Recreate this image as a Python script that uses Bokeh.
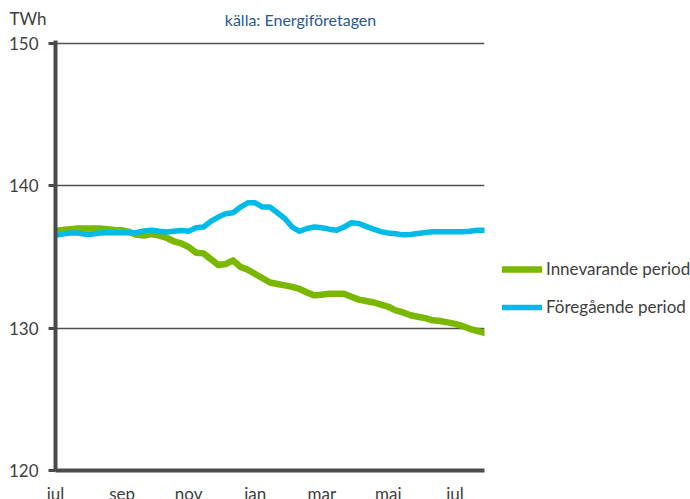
from bokeh.plotting import figure
from bokeh.models import Legend, LegendItem, Label, FixedTicker, ColumnDataSource
from bokeh.embed import file_html
from bokeh.resources import INLINE

# ---- data (weekly points) ----
innevarande = [136.82, 136.9, 136.95, 137.0, 137.0, 137.0, 137.0, 136.95, 136.9, 136.87,
               136.75, 136.55, 136.5, 136.6, 136.5, 136.35, 136.1, 135.95, 135.7, 135.3,
               135.25, 134.85, 134.43, 134.5, 134.76, 134.3, 134.1, 133.8, 133.5, 133.2,
               133.1, 133.0, 132.9, 132.75, 132.5, 132.3, 132.35, 132.41, 132.41, 132.41,
               132.2, 132.0, 131.9, 131.8, 131.65, 131.5, 131.25, 131.1, 130.9, 130.8,
               130.7, 130.55, 130.5, 130.4, 130.3, 130.15, 129.95, 129.8, 129.67]
foregaende = [136.54, 136.6, 136.68, 136.68, 136.6, 136.6, 136.68, 136.7, 136.7, 136.7,
              136.7, 136.72, 136.82, 136.87, 136.8, 136.75, 136.8, 136.85, 136.8, 137.05,
              137.1, 137.5, 137.8, 138.03, 138.1, 138.5, 138.8, 138.8, 138.5, 138.5,
              138.1, 137.7, 137.1, 136.8, 137.0, 137.1, 137.05, 136.95, 136.87, 137.1,
              137.4, 137.35, 137.15, 136.95, 136.78, 136.68, 136.63, 136.55, 136.58, 136.65,
              136.72, 136.77, 136.77, 136.77, 136.77, 136.77, 136.8, 136.87, 136.87]
weeks = list(range(len(innevarande)))
month_ticks = [0, 9, 18, 27, 36, 45, 54]
month_labels = ["jul", "sep", "nov", "jan", "mar", "maj", "jul"]
y_ticks = [120, 130, 140, 150]
series_names = ["Innevarande period", "Föregående period"]
subtitle = "källa: Energiföretagen"
unit = "TWh"

FONT = "Lato"
TXT = "#404040"
AX = "#4a4a4a"
GREEN = "#7ab800"
CYAN = "#00bbe8"

p = figure(frame_width=429, frame_height=430,
           min_border_left=55, min_border_right=206, min_border_top=40, min_border_bottom=29,
           x_range=(0, len(weeks) - 1), y_range=(120, 150.2),
           output_backend="svg", toolbar_location=None)
p.outline_line_color = None
p.background_fill_color = "white"

src = ColumnDataSource(dict(x=weeks, a=innevarande, b=foregaende))
r1 = p.line("x", "a", source=src, line_color=GREEN, line_width=6.5, line_join="round", line_cap="round")
r2 = p.line("x", "b", source=src, line_color=CYAN, line_width=5.5, line_join="round", line_cap="round")

# axes
p.xgrid.grid_line_color = None
p.ygrid.ticker = FixedTicker(ticks=y_ticks)
p.ygrid.grid_line_color = "#505050"
p.ygrid.grid_line_width = 1.6

p.yaxis.ticker = FixedTicker(ticks=y_ticks)
p.yaxis.axis_line_color = AX
p.yaxis.axis_line_width = 4
p.yaxis.major_tick_line_color = AX
p.yaxis.major_tick_line_width = 3
p.yaxis.major_tick_in = 0
p.yaxis.major_tick_out = 7
p.yaxis.minor_tick_line_color = None
p.yaxis.major_label_text_font = FONT
p.yaxis.major_label_text_font_size = "17px"
p.yaxis.major_label_text_color = TXT
p.yaxis.major_label_standoff = 10

p.xaxis.ticker = FixedTicker(ticks=month_ticks)
p.xaxis.major_label_overrides = {t: l for t, l in zip(month_ticks, month_labels)}
p.xaxis.axis_line_color = AX
p.xaxis.axis_line_width = 4
p.xaxis.major_tick_line_color = None
p.xaxis.minor_tick_line_color = None
p.xaxis.major_label_text_font = FONT
p.xaxis.major_label_text_font_size = "17px"
p.xaxis.major_label_text_color = TXT
p.xaxis.major_label_standoff = 6

# texts above the plot area
p.add_layout(Label(x=-46, y=22, x_units="screen", y_units="screen", text=unit,
                   text_font=FONT, text_font_size="17px", text_color=TXT,
                   text_align="left", text_baseline="middle"), "above")
p.add_layout(Label(x=245, y=0, x_units="screen", y_units="screen", text=subtitle,
                   text_font=FONT, text_font_size="16px", text_color="#2b5a8e",
                   text_align="center", text_baseline="middle"), "above")

legend = Legend(items=[LegendItem(label=series_names[0], renderers=[r1]),
                       LegendItem(label=series_names[1], renderers=[r2])],
                location=(18, 153), orientation="vertical",
                glyph_width=40, glyph_height=20, label_height=20, spacing=17,
                padding=0, margin=0, label_standoff=4,
                label_text_font=FONT, label_text_font_size="17px", label_text_color=TXT,
                border_line_color=None, background_fill_alpha=0)
p.add_layout(legend, "right")

open("out.html", "w").write(file_html(p, INLINE))
